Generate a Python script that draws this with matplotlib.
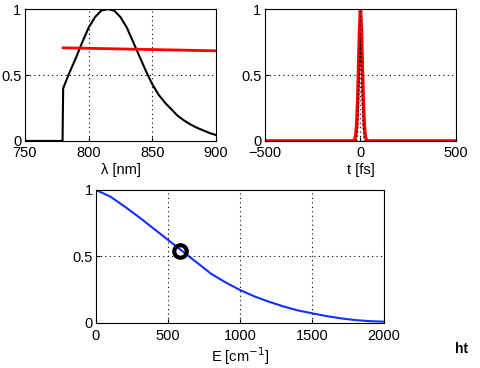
import matplotlib
matplotlib.use("Agg")
import matplotlib.pyplot as plt

plt.rcParams['font.family'] = ['Liberation Sans', 'DejaVu Sans']

# spectrum (wavelength, nm)
lam = [750, 779.5, 780, 785, 790, 795, 800, 805, 810, 815, 820, 825, 830, 835, 840,
       845, 850, 855, 860, 865, 870, 875, 880, 885, 890, 895, 900]
spec = [0, 0, 0.40, 0.52, 0.63, 0.75, 0.86, 0.94, 0.99, 1.0, 0.99, 0.94, 0.86, 0.75, 0.64,
        0.53, 0.43, 0.35, 0.29, 0.24, 0.19, 0.155, 0.125, 0.10, 0.08, 0.06, 0.045]
lam_phase = [780, 900]
phase = [0.707, 0.684]

# temporal pulse (fs)
t = [-500, -40, -35, -30, -25, -20, -15, -10, -5, 0, 5, 10, 15, 20, 25, 30, 35, 40, 500]
pulse = [0, 0, 0, 0.01, 0.04, 0.12, 0.30, 0.55, 0.85, 1.0, 0.85, 0.55, 0.30, 0.12, 0.04, 0.01, 0, 0, 0]
t_in = [-20, -15, -10, -5, 0, 5, 10, 15, 20]
pulse_in = [0, 0.08, 0.3, 0.6, 0.76, 0.6, 0.3, 0.08, 0]

# energy curve (cm^-1)
E = [0, 100, 200, 300, 400, 500, 600, 700, 800, 900, 1000,
     1100, 1200, 1300, 1400, 1500, 1600, 1700, 1800, 1900, 2000]
val = [1.0, 0.95, 0.875, 0.795, 0.71, 0.625, 0.54, 0.455, 0.37, 0.305, 0.248,
       0.2, 0.16, 0.125, 0.095, 0.073, 0.052, 0.035, 0.022, 0.014, 0.01]
E_mark, val_mark = 580, 0.54

fig = plt.figure(figsize=(4.8, 3.68), dpi=100)
fs = 10.5

def style(ax, xlim, xticks, xlabel, vgrid, xpad):
    ax.set_xlim(*xlim)
    ax.set_ylim(0, 1)
    ax.set_xticks(xticks)
    ax.set_yticks([0, 0.5, 1])
    ax.set_yticklabels(["0", "0.5", "1"])
    ax.tick_params(direction="in", length=3, labelsize=fs)
    ax.tick_params(axis="x", pad=xpad)
    ax.tick_params(axis="y", pad=2.5)
    ax.set_xlabel(xlabel, fontsize=fs, labelpad=2)
    for v in vgrid:
        ax.axvline(v, color="black", ls=(0, (1, 3)), lw=0.8)
    ax.axhline(0.5, color="black", ls=(0, (1, 3)), lw=0.8)

ax1 = fig.add_axes([0.052, 0.617, 0.398, 0.358])
ax1.plot(lam, spec, color="black", lw=1.5)
ax1.plot(lam_phase, phase, color="red", lw=2)
style(ax1, (750, 900), [750, 800, 850, 900], "λ [nm]", [800, 850], 3.5)

ax2 = fig.add_axes([0.552, 0.617, 0.398, 0.358])
ax2.plot(t, pulse, color="red", lw=2.5)
ax2.plot(t_in, pulse_in, color="black", lw=1, ls=(0, (1, 2)))
style(ax2, (-500, 500), [-500, 0, 500], "t [fs]", [0], 3.5)

ax3 = fig.add_axes([0.2, 0.1223, 0.6, 0.3614])
ax3.plot(E, val, color="#1030ff", lw=1.5)
ax3.plot(E_mark, val_mark, "o", mfc="none", mec="black", mew=3, ms=9)
style(ax3, (0, 2000), [0, 500, 1000, 1500, 2000], "E [cm$^{-1}$]", [500, 1000, 1500], 4)

fig.text(0.962, 0.04, "ht", fontsize=10, fontweight="bold", ha="center")

fig.savefig("out.png", dpi=100)
